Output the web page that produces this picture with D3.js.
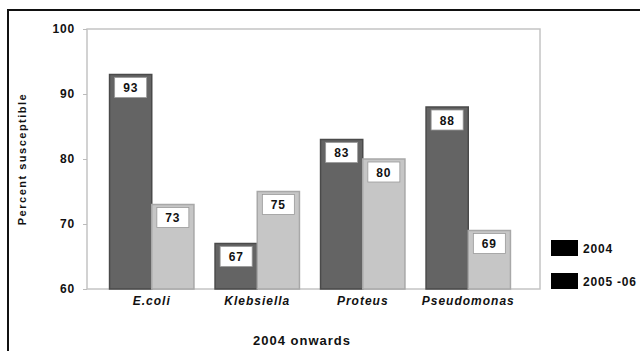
<!DOCTYPE html>
<html>
<head>
<meta charset="utf-8">
<script src="https://cdn.jsdelivr.net/npm/d3@7"></script>
<style>
  body { margin: 0; background: #fff; }
  text { font-family: "Liberation Sans", Arial, sans-serif; }
</style>
</head>
<body>
<div id="chart"></div>
<script>
var categories = ["E.coli", "Klebsiella", "Proteus", "Pseudomonas"];
var seriesNames = ["2004", "2005 -06"];
var values2004 = [93, 67, 83, 88];
var values2005 = [73, 75, 80, 69];
var yTicks = [60, 70, 80, 90, 100];

function init() {
    const w = 640;
    const h = 351;

    var svg = d3.select("#chart")
        .append("svg")
        .attr("width", w)
        .attr("height", h);

    // outer frame (runs off the right and bottom)
    svg.append("rect")
        .attr("x", 8).attr("y", 10)
        .attr("width", 660).attr("height", 360)
        .attr("fill", "none")
        .attr("stroke", "#111")
        .attr("stroke-width", 2);

    var left = 87, top = 29, right = 540, bottom = 289;

    var yScale = d3.scaleLinear()
        .domain([60, 100])
        .range([bottom, top]);

    var xScale = d3.scaleBand()
        .domain(categories)
        .range([99, 521])
        .paddingInner(0.2)
        .paddingOuter(0.1);

    var sub = d3.scaleBand()
        .domain([0, 1])
        .range([0, xScale.bandwidth()]);

    // plot area
    svg.append("rect")
        .attr("x", left).attr("y", top)
        .attr("width", right - left).attr("height", bottom - top)
        .attr("fill", "#fff")
        .attr("stroke", "#c4c4c4")
        .attr("stroke-width", 1.5);

    // y axis
    var yAxis = svg.append("g")
        .attr("transform", "translate(" + left + ",0)")
        .call(d3.axisLeft(yScale).tickValues(yTicks).tickSize(4).tickPadding(8));
    yAxis.select(".domain").remove();
    yAxis.selectAll("line").attr("stroke", "#bbb");
    yAxis.selectAll("text")
        .style("font-family", "'Liberation Sans', Arial, sans-serif")
        .style("font-size", "12px")
        .style("font-weight", "bold")
        .style("letter-spacing", "0.8px")
        .attr("fill", "#111");

    var data = [values2004, values2005];
    var fills = ["#646464", "#c6c6c6"];
    var strokes = ["#4a4a4a", "#a8a8a8"];

    var groups = svg.selectAll("g.series")
        .data(data)
        .enter()
        .append("g")
        .attr("class", "series");

    groups.each(function (vals, si) {
        var g = d3.select(this);
        var bars = g.selectAll("g.bar")
            .data(vals)
            .enter()
            .append("g")
            .attr("class", "bar");

        bars.append("rect")
            .attr("x", (d, i) => xScale(categories[i]) + sub(si))
            .attr("y", (d) => yScale(d))
            .attr("width", sub.bandwidth())
            .attr("height", (d) => bottom - yScale(d))
            .attr("fill", fills[si])
            .attr("stroke", strokes[si])
            .attr("stroke-width", 1.5);

        // value label boxes
        bars.append("rect")
            .attr("x", (d, i) => xScale(categories[i]) + sub(si) + sub.bandwidth() / 2 - 16)
            .attr("y", (d) => yScale(d) + 3)
            .attr("width", 32)
            .attr("height", 20)
            .attr("fill", "#fff")
            .attr("stroke", "#999")
            .attr("stroke-width", 0.8);

        bars.append("text")
            .attr("x", (d, i) => xScale(categories[i]) + sub(si) + sub.bandwidth() / 2)
            .attr("y", (d) => yScale(d) + 17.5)
            .attr("text-anchor", "middle")
            .style("font-size", "12px")
            .style("font-weight", "bold")
            .style("letter-spacing", "0.8px")
            .attr("fill", "#111")
            .text((d) => d);
    });

    // category labels
    svg.selectAll("text.cat")
        .data(categories)
        .enter()
        .append("text")
        .attr("class", "cat")
        .attr("x", (d) => xScale(d) + xScale.bandwidth() / 2)
        .attr("y", 305)
        .attr("text-anchor", "middle")
        .style("font-size", "12px")
        .style("font-weight", "bold")
        .style("font-style", "italic")
        .style("letter-spacing", "1px")
        .attr("fill", "#111")
        .text((d) => d);

    // axis titles
    svg.append("text")
        .attr("transform", "translate(26,159) rotate(-90)")
        .attr("text-anchor", "middle")
        .style("font-size", "11px")
        .style("font-weight", "bold")
        .style("letter-spacing", "1.5px")
        .attr("fill", "#111")
        .text("Percent susceptible");

    svg.append("text")
        .attr("x", 302)
        .attr("y", 345)
        .attr("text-anchor", "middle")
        .style("font-size", "13px")
        .style("font-weight", "bold")
        .style("letter-spacing", "1px")
        .attr("fill", "#111")
        .text("2004 onwards");

    // legend
    var legend = svg.selectAll("g.legend")
        .data(seriesNames)
        .enter()
        .append("g")
        .attr("class", "legend")
        .attr("transform", (d, i) => "translate(551," + (240 + i * 33) + ")");

    legend.append("rect")
        .attr("width", 27)
        .attr("height", 16)
        .attr("fill", "#000");

    legend.append("text")
        .attr("x", 32)
        .attr("y", 12.5)
        .style("font-size", "12px")
        .style("font-weight", "bold")
        .style("letter-spacing", "0.8px")
        .attr("fill", "#111")
        .text((d) => d);
}
window.onload = init();
</script>
</body>
</html>
